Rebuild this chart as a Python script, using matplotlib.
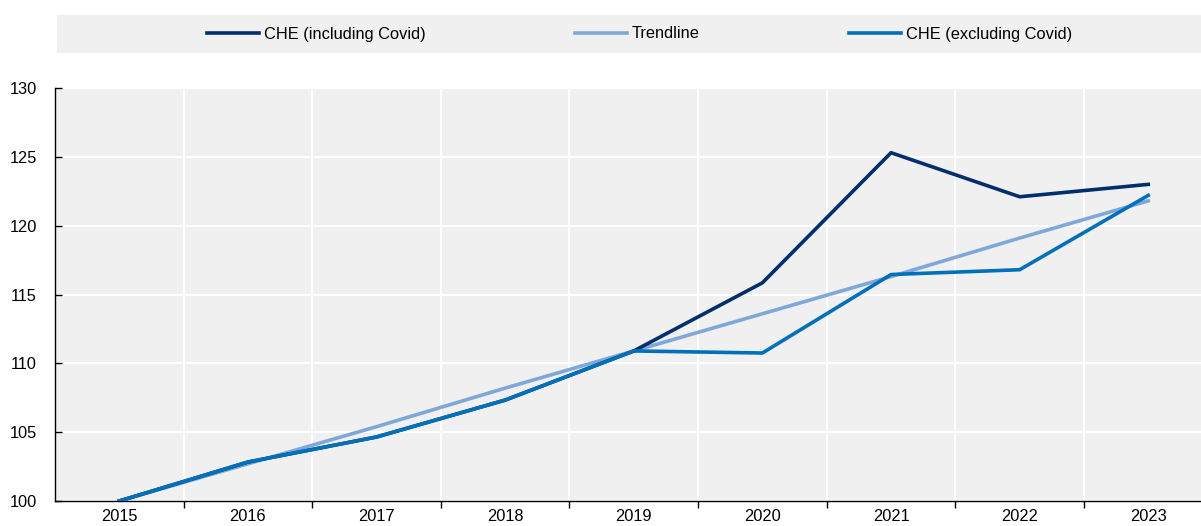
import matplotlib
matplotlib.use('Agg')
import matplotlib.pyplot as plt
from matplotlib.patches import Rectangle
from matplotlib.ticker import FixedLocator, MultipleLocator

years = ['2015', '2016', '2017', '2018', '2019', '2020', '2021', '2022', '2023']
che_incl = [100, 102.83, 104.65, 107.33, 110.9, 115.85, 125.3, 122.1, 123.0]
trend = [100, 102.7, 105.4, 108.2, 110.9, 113.6, 116.3, 119.1, 121.8]
che_excl = [100, 102.83, 104.65, 107.33, 110.9, 110.75, 116.45, 116.8, 122.2]

plt.rcParams.update({
    'font.family': ['Liberation Sans', 'DejaVu Sans'],
    'font.size': 11.8,
})

fig = plt.figure(figsize=(12.01, 5.26), dpi=100)
ax = fig.add_axes([55 / 1201, 25 / 526, 1 - 55 / 1201, (501 - 88) / 526])
ax.set_facecolor('#f0f0f0')

x = list(range(len(years)))
ax.plot(x, che_incl, color='#002f6c', lw=2.6, label='CHE (including Covid)', zorder=3)
ax.plot(x, trend, color='#7fa8d9', lw=2.6, label='Trendline', zorder=2)
ax.plot(x, che_excl, color='#0070b8', lw=2.6, label='CHE (excluding Covid)', zorder=4)

ax.set_xlim(-0.5, 8.41)
ax.set_ylim(100, 130)
ax.set_xticks(x)
ax.set_xticklabels(years)
ax.xaxis.set_minor_locator(FixedLocator([i + 0.5 for i in range(8)]))
ax.tick_params(axis='x', which='major', length=0, pad=6)
ax.tick_params(axis='x', which='minor', length=5, direction='out', width=1)
ax.yaxis.set_major_locator(MultipleLocator(5))
ax.tick_params(axis='y', which='major', length=5, direction='in', width=1, pad=13)
ax.grid(True, which='minor', axis='x', color='white', lw=1.5)
ax.grid(True, which='major', axis='y', color='white', lw=1.5)
ax.set_axisbelow(True)
for s in ['top', 'right']:
    ax.spines[s].set_visible(False)
for s in ['left', 'bottom']:
    ax.spines[s].set_color('black')
    ax.spines[s].set_linewidth(1)

# legend band
fig.add_artist(Rectangle((57 / 1201, 1 - 53 / 526), 1 - 57 / 1201, 38 / 526,
                         transform=fig.transFigure, facecolor='#f0f0f0',
                         edgecolor='none', zorder=0))
fig.legend(loc='center', bbox_to_anchor=(0.5325, 1 - 34 / 526), ncol=3,
           frameon=False, handlelength=3.2, handletextpad=0.3,
           columnspacing=9.1, fontsize=11.8)

fig.savefig('out.png', dpi=100)
